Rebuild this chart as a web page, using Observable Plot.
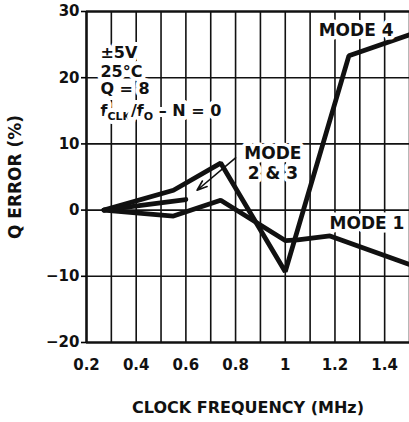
<!DOCTYPE html>
<html>
<head>
<meta charset="utf-8">
<script src="https://cdn.jsdelivr.net/npm/d3@7"></script>
<script src="https://cdn.jsdelivr.net/npm/@observablehq/plot@0.6"></script>
<style>
  html, body { margin: 0; padding: 0; background: #fff; }
  svg { font-family: "DejaVu Sans", sans-serif; font-weight: bold; }
</style>
</head>
<body>
<div id="chart"></div>
<script>
// ---- data ----
const mode4X = [0.27, 0.55, 0.74, 1.0, 1.256, 1.5];
const mode4Y = [0, 3.0, 7.1, -9.3, 23.3, 26.5];

const mode23X = [0.27, 0.6];
const mode23Y = [0, 1.6];

const mode1X = [0.27, 0.55, 0.74, 1.0, 1.05, 1.18, 1.5];
const mode1Y = [0, -0.9, 1.5, -4.6, -4.5, -3.9, -8.2];

const xTickValues = [0.2, 0.4, 0.6, 0.8, 1, 1.2, 1.4];
const xTickLabels = ["0.2", "0.4", "0.6", "0.8", "1", "1.2", "1.4"];
const xGridValues = [0.3, 0.4, 0.5, 0.6, 0.7, 0.8, 0.9, 1.0, 1.1, 1.2, 1.3, 1.4, 1.5];
const yTickValues = [-20, -10, 0, 10, 20, 30];
const yGridValues = [-10, 0, 10, 20];

const condLabels = ["±5V", "25°C", "Q = 8", "fCLK/fO – N = 0"];
const condX = [0.256, 0.256, 0.256, 0.256];
const condY = [23.7, 20.9, 18.3, 15.0];

const modeLabels = ["MODE 4", "MODE", "2 & 3", "MODE 1"];
const modeX = [1.285, 0.95, 0.95, 1.329];
const modeY = [27.1, 8.55, 5.5, -2.0];

const arrowFrom = [0.80, 7.9];
const arrowTo = [0.645, 3.0];

const xLabel = "CLOCK FREQUENCY (MHz)";
const yLabel = "Q ERROR (%)";

// ---- build tables ----
const series = [
  ...mode4X.map((x, i) => ({series: "Mode 4", x, y: mode4Y[i]})),
  ...mode23X.map((x, i) => ({series: "Mode 2 & 3", x, y: mode23Y[i]})),
  ...mode1X.map((x, i) => ({series: "Mode 1", x, y: mode1Y[i]}))
];
const cond = condLabels.map((t, i) => ({t, x: condX[i], y: condY[i]}));
const modes = modeLabels.map((t, i) => ({t, x: modeX[i], y: modeY[i]}));

const chart = Plot.plot({
  width: 409,
  height: 422,
  marginLeft: 86,
  marginRight: 0,
  marginTop: 11,
  marginBottom: 80,
  style: {fontFamily: "'DejaVu Sans', sans-serif", fontWeight: "bold", background: "#fff"},
  x: {domain: [0.2, 1.5]},
  y: {domain: [-20, 30]},
  marks: [
    Plot.ruleX(xGridValues, {stroke: "#111", strokeWidth: 1.6}),
    Plot.ruleY(yGridValues, {stroke: "#111", strokeWidth: 1.6}),
    Plot.ruleX([0.2], {stroke: "#111", strokeWidth: 2.6}),
    Plot.ruleY([30, -20], {stroke: "#111", strokeWidth: 2.6}),
    Plot.axisY(yTickValues, {
      ticks: yTickValues, tickSize: 5, tickPadding: 2, strokeWidth: 1.6,
      fontSize: 15, fontWeight: "bold", fill: "#111", label: null
    }),
    Plot.axisX(xTickValues, {
      ticks: xTickValues, tickSize: 0, tickPadding: 17,
      tickFormat: (d) => xTickLabels[xTickValues.indexOf(d)],
      fontSize: 15, fontWeight: "bold", fill: "#111", label: null
    }),
    Plot.text(cond, {
      x: "x", y: "y", text: "t", textAnchor: "start",
      fontSize: 16, fontWeight: "bold", fill: "#111",
      stroke: "white", strokeWidth: 8
    }),
    Plot.line(series, {
      x: "x", y: "y", z: "series", stroke: "#111", strokeWidth: 4.8,
      strokeLinejoin: "miter", strokeLinecap: "round"
    }),
    Plot.arrow([{x1: arrowFrom[0], y1: arrowFrom[1], x2: arrowTo[0], y2: arrowTo[1]}], {
      x1: "x1", y1: "y1", x2: "x2", y2: "y2",
      stroke: "#111", strokeWidth: 1.6, headLength: 10, headAngle: 40
    }),
    Plot.text(modes, {
      x: "x", y: "y", text: "t", textAnchor: "middle",
      fontSize: 17, fontWeight: "bold", fill: "#111",
      stroke: "white", strokeWidth: 7
    }),
    Plot.text([xLabel], {
      frameAnchor: "bottom", dy: 70, text: (d) => d, textAnchor: "middle",
      fontSize: 16, fontWeight: "bold", fill: "#111"
    }),
    Plot.text([yLabel], {
      frameAnchor: "left", dx: -71, rotate: -90, text: (d) => d, textAnchor: "middle",
      fontSize: 17, fontWeight: "bold", fill: "#111"
    })
  ]
});

// subscripts for fCLK / fO
chart.querySelectorAll("text").forEach((el) => {
  if (el.textContent === "fCLK/fO – N = 0") {
    const tgt = el.querySelector("tspan") || el;
    tgt.textContent = "";
    const parts = [["f", 0, null], ["CLK", 4, 11], ["/f", -4, null], ["O", 4, 11], [" – N = 0", -4, null]];
    for (const [s, dy, fs] of parts) {
      const t = document.createElementNS("http://www.w3.org/2000/svg", "tspan");
      t.textContent = s;
      if (dy) t.setAttribute("dy", dy);
      if (fs) t.setAttribute("font-size", fs);
      tgt.appendChild(t);
    }
  }
});

document.getElementById("chart").appendChild(chart);
</script>
</body>
</html>
